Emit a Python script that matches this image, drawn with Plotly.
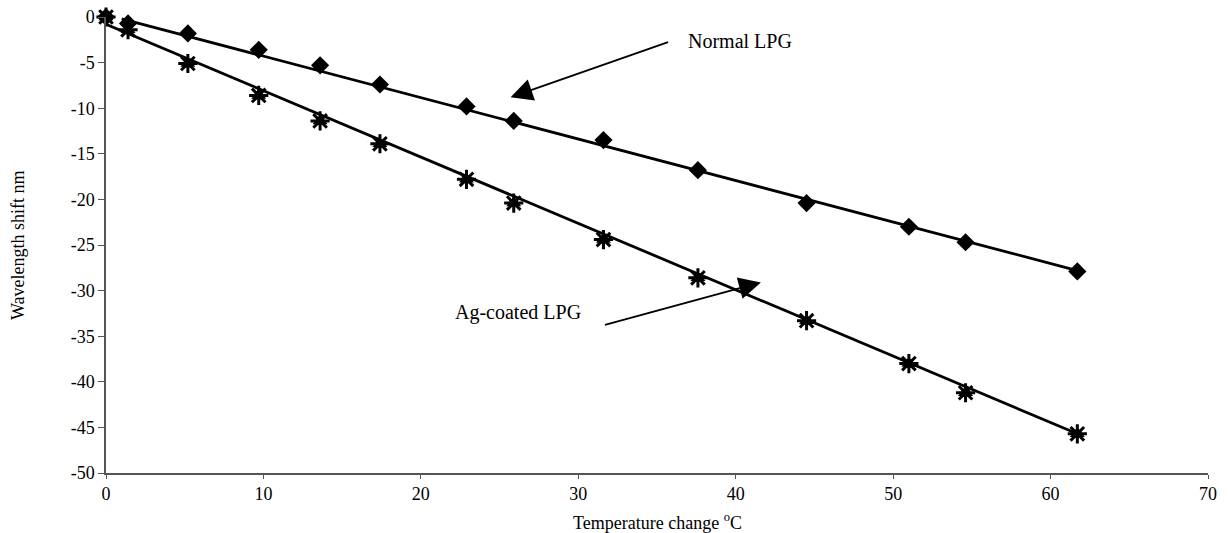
import plotly.graph_objects as go

# Temperature change (°C)
temp = [0, 1.4, 5.2, 9.7, 13.6, 17.4, 22.9, 25.9, 31.6, 37.6, 44.5, 51.0, 54.6, 61.7]
# Wavelength shift (nm)
normal_lpg = [0, -0.7, -1.8, -3.6, -5.3, -7.4, -9.8, -11.4, -13.5, -16.8, -20.4, -23.0, -24.7, -27.9]
ag_lpg = [0, -1.4, -5.1, -8.6, -11.4, -13.9, -17.8, -20.4, -24.4, -28.6, -33.3, -38.0, -41.2, -45.7]

# Linear trendlines (end points)
normal_fit_x = [1.0, 61.7]
normal_fit_y = [-0.2, -27.8]
ag_fit_x = [0, 61.7]
ag_fit_y = [-0.8, -45.7]

x_ticks = [0, 10, 20, 30, 40, 50, 60, 70]
x_labels = ["0", "10", "20", "30", "40", "50", "60", "70"]
y_ticks = [0, -5, -10, -15, -20, -25, -30, -35, -40, -45, -50]
y_labels = ["0", "-5", "-10", "-15", "-20", "-25", "-30", "-35", "-40", "-45", "-50"]

FONT = "Times New Roman, Liberation Serif, DejaVu Serif, serif"

fig = go.Figure()
fig.add_trace(go.Scatter(x=normal_fit_x, y=normal_fit_y, mode="lines",
                         line=dict(color="black", width=2.8), showlegend=False, cliponaxis=False))
fig.add_trace(go.Scatter(x=ag_fit_x, y=ag_fit_y, mode="lines",
                         line=dict(color="black", width=2.8), showlegend=False, cliponaxis=False))
fig.add_trace(go.Scatter(x=temp, y=normal_lpg, mode="markers",
                         marker=dict(symbol="diamond", size=14, color="black"),
                         showlegend=False, cliponaxis=False))
fig.add_trace(go.Scatter(x=temp, y=ag_lpg, mode="markers",
                         marker=dict(symbol="triangle-up", size=13, color="black"),
                         showlegend=False, cliponaxis=False))
fig.add_trace(go.Scatter(x=temp, y=ag_lpg, mode="markers",
                         marker=dict(symbol="asterisk-open", size=16, color="black",
                                     line=dict(color="black", width=3)),
                         showlegend=False, cliponaxis=False))
fig.add_trace(go.Scatter(x=temp, y=ag_lpg, mode="markers",
                         marker=dict(symbol="square", size=8, color="black"),
                         showlegend=False, cliponaxis=False))

fig.add_annotation(x=25.7, y=-8.8, ax=35.8, ay=-2.7, axref="x", ayref="y",
                   xref="x", yref="y", text="", showarrow=True,
                   arrowhead=2, arrowsize=2.2, arrowwidth=2, arrowcolor="black")
fig.add_annotation(x=40.3, y=-2.6, xref="x", yref="y", text="Normal LPG",
                   showarrow=False, font=dict(family=FONT, size=20, color="black"))
fig.add_annotation(x=41.6, y=-29.1, ax=31.6, ay=-33.8, axref="x", ayref="y",
                   xref="x", yref="y", text="", showarrow=True,
                   arrowhead=2, arrowsize=2.2, arrowwidth=2, arrowcolor="black")
fig.add_annotation(x=26.2, y=-32.4, xref="x", yref="y", text="Ag-coated LPG",
                   showarrow=False, font=dict(family=FONT, size=20, color="black"))

# Axis titles
fig.add_annotation(x=0.5, y=-0.107, xref="paper", yref="paper", yanchor="middle",
                   text="Temperature change <sup>o</sup>C", showarrow=False,
                   font=dict(family=FONT, size=18, color="black"))
fig.add_annotation(x=-0.0799, y=0.5, xref="paper", yref="paper", xanchor="center",
                   text="Wavelength shift nm", textangle=-90, showarrow=False,
                   font=dict(family=FONT, size=18, color="black"))

fig.update_layout(
    width=1229, height=533,
    margin=dict(l=106, r=21, t=17, b=60),
    plot_bgcolor="white", paper_bgcolor="white",
    font=dict(family=FONT, size=18, color="black"),
    showlegend=False,
)
fig.update_xaxes(range=[0, 70], tickvals=x_ticks, ticktext=x_labels,
                 showgrid=False, zeroline=False, automargin=False,
                 showline=True, linecolor="#555", linewidth=1.5,
                 ticks="outside", ticklen=4, tickcolor="#555",
                 tickfont=dict(family=FONT, size=18))
fig.update_yaxes(range=[-50, 0], tickvals=y_ticks, ticktext=y_labels,
                 showgrid=False, zeroline=False, automargin=False,
                 showline=True, linecolor="#555", linewidth=1.5,
                 ticks="outside", ticklen=6, tickcolor="#555",
                 tickfont=dict(family=FONT, size=18))

fig.write_html("out.html")
